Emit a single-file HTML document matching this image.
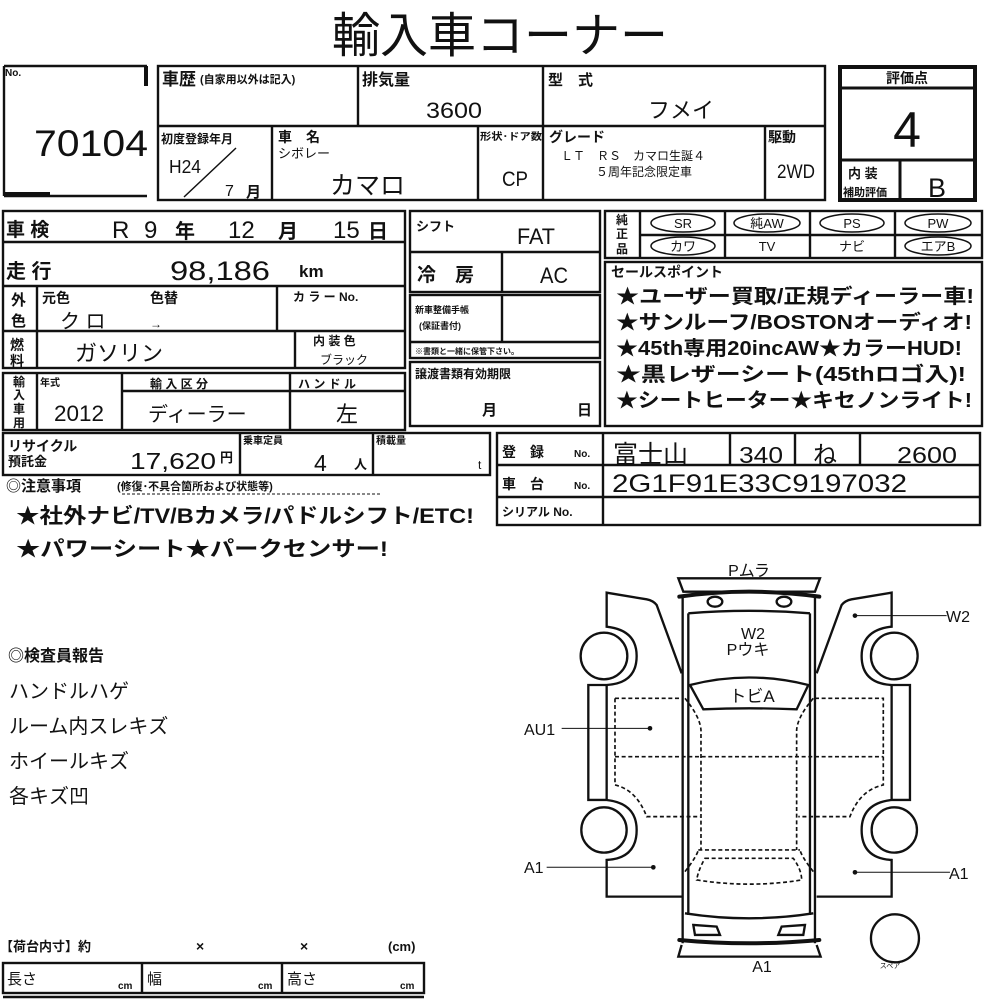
<!DOCTYPE html>
<html><head><meta charset="utf-8"><style>
html,body{margin:0;padding:0;background:#fff}
svg{display:block}
text{font-family:"Liberation Sans","Noto Sans CJK JP",sans-serif;fill:#111}
.b{font-weight:bold}
</style></head><body>
<svg width="1000" height="1000" viewBox="0 0 1000 1000" xmlns="http://www.w3.org/2000/svg">
<g fill="none" stroke="#111" stroke-width="2.4">
<path d="M4,66 L147,66 M4,66 L4,196 M4,196 L147,196" />
<path d="M4,194 L50,194" stroke-width="4"/>
<path d="M146,66 L146,86" stroke-width="4"/>
<rect x="158" y="66" width="667" height="134"/>
<path d="M158,126 L825,126 M358,66 L358,126 M543,66 L543,200 M272,126 L272,200 M478,126 L478,200 M765,126 L765,200"/>
<path d="M184,197 L236,148" stroke-width="1.5"/>
<rect x="840" y="67" width="135" height="133" stroke-width="4"/>
<path d="M840,88 L975,88 M840,160 L975,160 M900,160 L900,200" stroke-width="3"/>
<rect x="3" y="211" width="402" height="157"/>
<path d="M3,242 L405,242 M3,286 L405,286 M3,331 L405,331 M37,286 L37,368 M277,286 L277,331 M295,331 L295,368"/>
<rect x="3" y="373" width="402" height="57"/>
<path d="M37,373 L37,430 M122,373 L122,430 M290,373 L290,430 M122,391 L405,391"/>
<rect x="410" y="211" width="190" height="81"/>
<path d="M410,252 L600,252 M502,252 L502,292"/>
<rect x="410" y="295" width="190" height="63"/>
<path d="M410,342 L600,342 M502,295 L502,342"/>
<rect x="410" y="362" width="190" height="64"/>
<rect x="605" y="211" width="377" height="47"/>
<path d="M640,211 L640,258 M640,235 L982,235 M725,211 L725,258 M810,211 L810,258 M895,211 L895,258"/>
<rect x="605" y="262" width="377" height="164"/>
<rect x="3" y="433" width="487" height="42"/>
<path d="M240,433 L240,475 M373,433 L373,475"/>
<rect x="497" y="433" width="483" height="92"/>
<path d="M497,465 L980,465 M497,497 L980,497 M603,433 L603,525 M730,433 L730,465 M795,433 L795,465 M860,433 L860,465"/>
<ellipse cx="683" cy="223" rx="32" ry="9" stroke-width="1.5"/>
<ellipse cx="767" cy="223" rx="33" ry="9" stroke-width="1.5"/>
<ellipse cx="852" cy="223" rx="32" ry="9" stroke-width="1.5"/>
<ellipse cx="938" cy="223" rx="33" ry="9" stroke-width="1.5"/>
<ellipse cx="683" cy="246" rx="32" ry="9" stroke-width="1.5"/>
<ellipse cx="938" cy="246" rx="33" ry="9" stroke-width="1.5"/>
<rect x="3" y="963" width="421" height="30"/>
<path d="M142,963 L142,993 M282,963 L282,993 M3,997 L424,997"/>
<path d="M122,494 L380,494" stroke-width="1" stroke-dasharray="3,2"/>
</g>

<g transform="translate(500,550) scale(0.3333)" fill="none" stroke="#111" stroke-width="7">
<g id="door">
<path d="M545,370 L470,165 Q460,152 440,148 L320,128 L320,230 Q410,240 410,318 Q410,400 320,405 L265,405 L265,750 L320,750 Q410,760 410,840 Q410,925 320,930 L320,1040 L545,1040"/>
<path d="M320,405 L320,750"/>
<circle cx="312" cy="318" r="70"/>
<circle cx="312" cy="840" r="68"/>
</g>
<use href="#door" transform="translate(1495,0) scale(-1,1)"/>
<path d="M548,140 L548,1180 M945,140 L945,1180 M565,190 L565,1095 M930,190 L930,1095"/>
<path d="M535,85 L960,85 L945,125 L550,125 Z"/>
<path d="M538,140 Q747,110 958,140" stroke-width="12" stroke-linecap="round"/>
<path d="M565,190 Q747,175 930,190"/>
<ellipse cx="645" cy="155" rx="22" ry="15"/>
<ellipse cx="852" cy="155" rx="22" ry="15"/>
<path d="M570,405 Q747,360 925,405 L890,478 Q747,472 610,478 Z"/>
<path d="M555,1090 Q747,1120 940,1090"/>
<path d="M580,1125 L650,1130 L660,1155 L585,1155 Z M915,1125 L845,1130 L835,1155 L910,1155 Z"/>
<path d="M538,1170 Q747,1190 958,1170" stroke-width="12" stroke-linecap="round"/>
<path d="M545,1185 L535,1220 L962,1220 L950,1185"/>
<g stroke-width="5" stroke-dasharray="12,8">
<path d="M345,445 L550,445 M345,445 L345,705 Q410,720 440,800 L600,800 M345,620 L1150,620 M945,445 L1150,445 L1150,705 Q1080,720 1050,800 L895,800"/>
<path d="M555,445 Q600,500 603,540 L603,900 M940,445 Q893,500 890,540 L890,900 M595,900 L900,900 M555,965 Q590,920 595,900 M940,965 Q905,920 900,900"/>
<path d="M615,925 L880,925 Q905,960 905,990 Q750,1015 590,990 Q595,960 615,925 Z"/>
</g>
<circle cx="1185" cy="1165" r="72"/>
<g stroke-width="3">
<path d="M185,535 L450,535 M140,952 L460,952 M1065,197 L1340,197 M1065,967 L1350,967"/>
</g>
<g fill="#111" stroke="none">
<circle cx="450" cy="535" r="7"/><circle cx="460" cy="952" r="7"/><circle cx="1065" cy="197" r="7"/><circle cx="1065" cy="967" r="7"/>
</g>
</g>
<g font-size="16" text-anchor="middle">
<text x="749" y="576">Pムラ</text>
<text x="753" y="639">W2</text>
<text x="748" y="655">Pウキ</text>
<text x="752" y="702" font-size="17">トビA</text>
<text x="762" y="972">A1</text>
<text x="890" y="968" font-size="7">スペア</text>
</g>
<g font-size="16">
<text x="524" y="735">AU1</text>
<text x="524" y="873">A1</text>
<text x="946" y="622">W2</text>
<text x="949" y="879">A1</text>
</g>

<text x="500" y="52" font-size="48" text-anchor="middle">輸入車コーナー</text>
<text x="5" y="76" font-size="10" class="b">No.</text>
<text x="34" y="156" font-size="37" textLength="114" lengthAdjust="spacingAndGlyphs">70104</text>

<text x="162" y="85" font-size="17" class="b">車歴</text>
<text x="200" y="83" font-size="11" class="b">(自家用以外は記入)</text>
<text x="362" y="85" font-size="16" class="b">排気量</text>
<text x="426" y="118" font-size="22" textLength="56" lengthAdjust="spacingAndGlyphs">3600</text>
<text x="548" y="85" font-size="15" class="b">型　式</text>
<text x="648" y="118" font-size="22">フメイ</text>

<text x="161" y="143" font-size="12" class="b">初度登録年月</text>
<text x="169" y="173" font-size="18" textLength="32" lengthAdjust="spacingAndGlyphs">H24</text>
<text x="225" y="196" font-size="16">7</text>
<text x="246" y="197" font-size="15" class="b">月</text>
<text x="278" y="142" font-size="14" class="b">車　名</text>
<text x="278" y="158" font-size="13">シボレー</text>
<text x="330" y="194" font-size="25">カマロ</text>
<text x="480" y="140" font-size="10" class="b" textLength="62" lengthAdjust="spacingAndGlyphs">形状･ドア数</text>
<text x="502" y="186" font-size="21" textLength="26" lengthAdjust="spacingAndGlyphs">CP</text>
<text x="549" y="142" font-size="14" class="b">グレード</text>
<text x="561" y="160" font-size="12">ＬＴ　ＲＳ　カマロ生誕４</text>
<text x="596" y="176" font-size="12">５周年記念限定車</text>
<text x="768" y="142" font-size="14" class="b">駆動</text>
<text x="777" y="178" font-size="19" textLength="38" lengthAdjust="spacingAndGlyphs">2WD</text>
<text x="907" y="83" font-size="14" class="b" text-anchor="middle">評価点</text>
<text x="907" y="147" font-size="50" text-anchor="middle">4</text>
<text x="848" y="178" font-size="13" class="b">内 装</text>
<text x="843" y="196" font-size="11" class="b">補助評価</text>
<text x="937" y="197" font-size="27" text-anchor="middle" textLength="18" lengthAdjust="spacingAndGlyphs">B</text>

<text x="6" y="236" font-size="19" class="b">車 検</text>
<g font-size="24">
<text x="112" y="238">R</text><text x="144" y="238">9</text><text x="175" y="238" font-size="20" class="b">年</text>
<text x="228" y="238">12</text><text x="278" y="238" font-size="20" class="b">月</text>
<text x="333" y="238">15</text><text x="368" y="238" font-size="20" class="b">日</text>
</g>
<text x="6" y="278" font-size="20" class="b">走 行</text>
<text x="170" y="280" font-size="27" textLength="100" lengthAdjust="spacingAndGlyphs">98,186</text>
<text x="299" y="277" font-size="17" class="b">km</text>
<text x="11" y="305" font-size="15" class="b">外</text><text x="11" y="326" font-size="15" class="b">色</text>
<text x="42" y="303" font-size="14" class="b">元色</text>
<text x="150" y="303" font-size="14" class="b">色替</text>
<text x="293" y="301" font-size="12" class="b">カ ラ ー No.</text>
<text x="60" y="328" font-size="20">ク ロ</text>
<text x="150" y="328" font-size="12">→</text>
<text x="10" y="350" font-size="14" class="b">燃</text><text x="10" y="366" font-size="14" class="b">料</text>
<text x="75" y="361" font-size="22">ガソリン</text>
<text x="313" y="345" font-size="12" class="b">内 装 色</text>
<text x="320" y="364" font-size="12">ブラック</text>
<g font-size="12" class="b"><text x="13" y="386">輸</text><text x="13" y="399">入</text><text x="13" y="413">車</text><text x="13" y="427">用</text></g>
<text x="40" y="386" font-size="10" class="b">年式</text>
<text x="54" y="421" font-size="22" textLength="50" lengthAdjust="spacingAndGlyphs">2012</text>
<text x="150" y="388" font-size="12" class="b">輸 入 区 分</text>
<text x="148" y="421" font-size="20">ディーラー</text>
<text x="298" y="388" font-size="12" class="b">ハ ン ド ル</text>
<text x="336" y="422" font-size="22">左</text>

<text x="416" y="231" font-size="13" class="b">シフト</text>
<text x="517" y="244" font-size="22" textLength="38" lengthAdjust="spacingAndGlyphs">FAT</text>
<text x="417" y="281" font-size="19" class="b">冷　房</text>
<text x="540" y="283" font-size="22" textLength="28" lengthAdjust="spacingAndGlyphs">AC</text>
<text x="415" y="313" font-size="9" class="b">新車整備手帳</text>
<text x="419" y="329" font-size="9" class="b">(保証書付)</text>
<text x="415" y="354" font-size="8" class="b">※書類と一緒に保管下さい。</text>
<text x="415" y="378" font-size="12" class="b">譲渡書類有効期限</text>
<text x="482" y="415" font-size="15" class="b">月</text>
<text x="577" y="415" font-size="15" class="b">日</text>

<g font-size="12" class="b"><text x="616" y="224">純</text><text x="616" y="238">正</text><text x="616" y="253">品</text></g>
<g font-size="13" text-anchor="middle">
<text x="683" y="228">SR</text><text x="767" y="228">純AW</text><text x="852" y="228">PS</text><text x="938" y="228">PW</text>
<text x="683" y="251">カワ</text><text x="767" y="251">TV</text><text x="852" y="251">ナビ</text><text x="938" y="251">エアB</text>
</g>
<text x="611" y="277" font-size="14" class="b">セールスポイント</text>
<g font-size="20" class="b">
<text x="616" y="303" textLength="358" lengthAdjust="spacingAndGlyphs">★ユーザー買取/正規ディーラー車!</text>
<text x="616" y="329" textLength="356" lengthAdjust="spacingAndGlyphs">★サンルーフ/BOSTONオーディオ!</text>
<text x="616" y="355" textLength="346" lengthAdjust="spacingAndGlyphs">★45th専用20incAW★カラーHUD!</text>
<text x="616" y="381" textLength="350" lengthAdjust="spacingAndGlyphs">★黒レザーシート(45thロゴ入)!</text>
<text x="616" y="407" textLength="356" lengthAdjust="spacingAndGlyphs">★シートヒーター★キセノンライト!</text>
</g>

<text x="8" y="451" font-size="14" class="b">リサイクル</text>
<text x="8" y="466" font-size="13" class="b">預託金</text>
<text x="130" y="469" font-size="23" textLength="86" lengthAdjust="spacingAndGlyphs">17,620</text>
<text x="220" y="462" font-size="13" class="b">円</text>
<text x="243" y="444" font-size="10" class="b">乗車定員</text>
<text x="314" y="471" font-size="23">4</text>
<text x="354" y="469" font-size="13" class="b">人</text>
<text x="376" y="444" font-size="10" class="b">積載量</text>
<text x="478" y="469" font-size="12">t</text>
<text x="502" y="457" font-size="14" class="b">登　録</text><text x="574" y="457" font-size="10" class="b">No.</text>
<text x="613" y="463" font-size="25">富士山</text>
<text x="739" y="463" font-size="23" textLength="44" lengthAdjust="spacingAndGlyphs">340</text>
<text x="813" y="463" font-size="24">ね</text>
<text x="897" y="463" font-size="23" textLength="60" lengthAdjust="spacingAndGlyphs">2600</text>
<text x="502" y="489" font-size="14" class="b">車　台</text><text x="574" y="489" font-size="10" class="b">No.</text>
<text x="612" y="492" font-size="25" textLength="295" lengthAdjust="spacingAndGlyphs">2G1F91E33C9197032</text>
<text x="502" y="516" font-size="12" class="b">シリアル No.</text>

<text x="6" y="491" font-size="15" class="b">◎注意事項</text>
<text x="117" y="490" font-size="11" class="b">(修復･不具合箇所および状態等)</text>
<text x="16" y="523" font-size="21" class="b" textLength="458" lengthAdjust="spacingAndGlyphs">★社外ナビ/TV/Bカメラ/パドルシフト/ETC!</text>
<text x="16" y="556" font-size="21" class="b" textLength="372" lengthAdjust="spacingAndGlyphs">★パワーシート★パークセンサー!</text>

<text x="8" y="661" font-size="16" class="b">◎検査員報告</text>
<g font-size="20">
<text x="9" y="698">ハンドルハゲ</text>
<text x="9" y="733">ルーム内スレキズ</text>
<text x="9" y="768">ホイールキズ</text>
<text x="9" y="803">各キズ凹</text>
</g>

<text x="0" y="951" font-size="13" class="b">【荷台内寸】約</text>
<text x="196" y="951" font-size="14" class="b">×</text>
<text x="300" y="951" font-size="14" class="b">×</text>
<text x="388" y="951" font-size="13" class="b">(cm)</text>
<text x="7" y="984" font-size="15">長さ</text>
<text x="147" y="984" font-size="15">幅</text>
<text x="287" y="984" font-size="15">高さ</text>
<g font-size="10" class="b"><text x="118" y="989">cm</text><text x="258" y="989">cm</text><text x="400" y="989">cm</text></g>
</svg>
</body></html>
